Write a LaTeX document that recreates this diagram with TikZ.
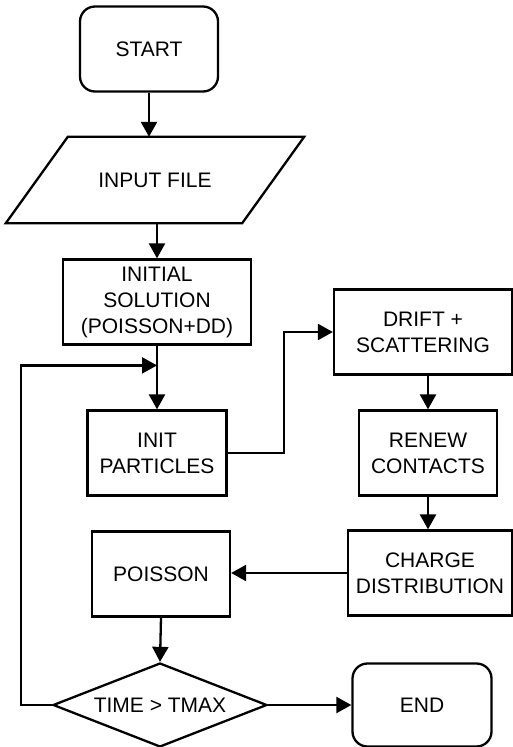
\documentclass[tikz,border=0pt]{standalone}
\usepackage{fontspec}
\setmainfont{Liberation Sans}
\usetikzlibrary{shapes.geometric, arrows.meta, positioning, calc}

\begin{document}
\begin{tikzpicture}[
    x=1pt, y=-1pt,
    every node/.style={font=\fontsize{21}{26}\selectfont, align=center},
    terminal/.style={rectangle, rounded corners=15pt, draw, line width=2.3pt, minimum width=138pt, minimum height=85pt},
    block/.style={rectangle, draw, line width=2.3pt, minimum height=85pt, inner sep=2pt},
    io/.style={rectangle, minimum width=298pt, minimum height=86pt},
    decision/.style={diamond, draw, line width=2.3pt, aspect=2.5, inner sep=0pt, minimum width=214pt, minimum height=84pt},
    arrow/.style={-{Triangle[length=15pt, width=16pt]}, line width=2.3pt},
    line/.style={line width=2.3pt}
  ]
  \useasboundingbox (0,0) rectangle (513,747);

  % Start and input
  \node[terminal] (start) at (149,49) {START};
  \node[io] (input) at (155,180) {INPUT FILE};
  \draw[line] ($(input.north west)+(62,0)$) -- (input.north east)
    -- ($(input.south east)-(62,0)$) -- (input.south west) -- cycle;
  \draw[arrow] (start.south) -- (start.south |- input.north);

  % Initialisation
  \node[block, minimum width=188pt] (initsol) at (157,302) {INITIAL\\SOLUTION\\(POISSON+DD)};
  \node[block, minimum width=139pt] (initpart) at (157,453) {INIT\\PARTICLES};
  \draw[arrow] (initsol.north |- input.south) -- (initsol.north);
  \draw[arrow] (initsol.south) -- (initpart.north);

  % Monte Carlo steps (right column)
  \node[block, minimum width=178pt] (drift) at (423,332) {DRIFT +\\SCATTERING};
  \node[block, minimum width=138pt] (renew) at (428,453) {RENEW\\CONTACTS};
  \node[block, minimum width=164pt] (charge) at (430,573) {CHARGE\\DISTRIBUTION};
  \draw[arrow] (initpart.east) -- ++(56,0) |- (drift.west);
  \draw[arrow] (renew.north |- drift.south) -- (renew.north);
  \draw[arrow] (renew.south) -- (renew.south |- charge.north);

  % Field solution
  \node[block, minimum width=138pt] (poisson) at (161,574) {POISSON};
  \draw[arrow] (charge.west) -- (poisson.east |- charge.west);

  % Time check
  \node[decision] (check) at (160,705) {TIME > TMAX};
  \node[terminal, minimum width=139pt, minimum height=83pt] (end) at (422,705) {END};
  \draw[arrow] (poisson.south) -- (check.north);
  \draw[arrow] (check.east) -- (end.west);

  % Loop back
  \coordinate (merge) at ($(initsol.south)!0.31!(initpart.north)$);
  \draw[arrow] (check.west) -- ++(-31,0) |- (merge);

\end{tikzpicture}
\end{document}
